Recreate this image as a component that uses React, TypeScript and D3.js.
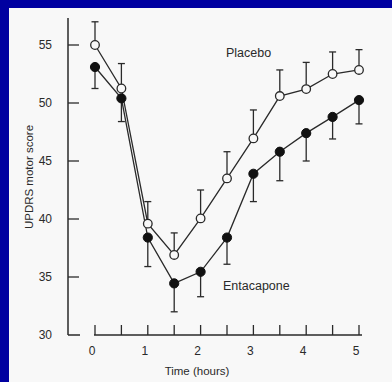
import React from 'react';
import * as d3 from 'd3';

// hours after levodopa dose
const times = [0, 0.5, 1, 1.5, 2, 2.5, 3, 3.5, 4, 4.5, 5];
const placebo = [55.0, 51.25, 39.6, 36.9, 40.05, 43.5, 46.95, 50.6, 51.2, 52.5, 52.85];
const placeboErr = [2.0, 2.15, 1.9, 1.9, 2.45, 2.3, 2.45, 2.25, 2.3, 1.9, 1.75];
const entacapone = [53.1, 50.4, 38.4, 34.45, 35.45, 38.4, 43.9, 45.8, 47.4, 48.8, 50.25];
const entacaponeErr = [1.85, 2.0, 2.5, 2.45, 2.15, 2.3, 2.4, 2.5, 2.4, 1.9, 2.05];
const yTicks = [30, 35, 40, 45, 50, 55];
const xTicks = [0, 1, 2, 3, 4, 5];
const xMinor = [0, 0.5, 1, 1.5, 2, 2.5, 3, 3.5, 4, 4.5, 5];

const W = 392;
const H = 382;
const FONT = '"Liberation Sans", Arial, sans-serif';
const INK = '#2a2a2a';

export default function App() {
  const x = d3.scaleLinear().domain([0, 5]).range([95, 359]);
  const y = d3.scaleLinear().domain([30, 55]).range([335, 45]);

  const line = d3.line<number>()
    .x((_, i) => x(times[i]))
    .y(d => y(d));

  const axisY = 68;
  const baseline = y(30);

  return (
    <svg width={W} height={H} style={{ position: 'absolute', left: 0, top: 0 }}>
      <rect x={0} y={0} width={W} height={H} fill="#0000a0" />
      <rect x={9} y={8} width={W - 9} height={H - 8} fill="#f8f8f8" />

      {/* y axis */}
      <line x1={axisY} x2={axisY} y1={18} y2={baseline} stroke={INK} strokeWidth={1.5} />
      <line x1={axisY} x2={axisY + 12} y1={baseline} y2={baseline} stroke={INK} strokeWidth={1.5} />
      {yTicks.map(t => (
        <g key={t}>
          {t > 30 && <line x1={axisY} x2={axisY + 11} y1={y(t)} y2={y(t)} stroke={INK} strokeWidth={1.3} />}
          <text x={52} y={y(t)} dy="0.35em" textAnchor="end" fontSize={12} fontFamily={FONT} fill={INK}>{t}</text>
        </g>
      ))}
      <text transform={`translate(29,177) rotate(-90)`} textAnchor="middle" dy="0.35em"
        fontSize={11.5} fontFamily={FONT} fill={INK}>UPDRS motor score</text>

      {/* x axis */}
      <line x1={x(0) - 1} x2={x(5) + 3} y1={baseline} y2={baseline} stroke={INK} strokeWidth={1.5} />
      {xMinor.map(t => (
        <line key={t} x1={x(t)} x2={x(t)} y1={baseline} y2={baseline - 10} stroke={INK} strokeWidth={1.3} />
      ))}
      {xTicks.map(t => (
        <text key={t} x={x(t) - 3} y={351} dy="0.35em" textAnchor="middle" fontSize={12} fontFamily={FONT} fill={INK}>{t}</text>
      ))}
      <text x={197} y={371} dy="0.35em" textAnchor="middle" fontSize={11.5} fontFamily={FONT} fill={INK}>Time (hours)</text>

      {/* error bars */}
      {placebo.map((v, i) => {
        const cx = x(times[i]);
        const top = y(v + placeboErr[i]);
        return (
          <g key={'pe' + i} stroke={INK} strokeWidth={1.3}>
            <line x1={cx} x2={cx} y1={y(v)} y2={top} />
            <line x1={cx - 3.5} x2={cx + 3.5} y1={top} y2={top} />
          </g>
        );
      })}
      {entacapone.map((v, i) => {
        const cx = x(times[i]);
        const bot = y(v - entacaponeErr[i]);
        return (
          <g key={'ee' + i} stroke={INK} strokeWidth={1.3}>
            <line x1={cx} x2={cx} y1={y(v)} y2={bot} />
            <line x1={cx - 3.5} x2={cx + 3.5} y1={bot} y2={bot} />
          </g>
        );
      })}

      {/* lines */}
      <path d={line(entacapone) ?? ''} fill="none" stroke={INK} strokeWidth={1.3} />
      <path d={line(placebo) ?? ''} fill="none" stroke={INK} strokeWidth={1.3} />

      {/* markers */}
      {entacapone.map((v, i) => (
        <circle key={'e' + i} cx={x(times[i])} cy={y(v)} r={4.6} fill="#111" stroke="#111" strokeWidth={1} />
      ))}
      {placebo.map((v, i) => (
        <circle key={'p' + i} cx={x(times[i])} cy={y(v)} r={4.3} fill="#f8f8f8" stroke={INK} strokeWidth={1.3} />
      ))}

      <text x={226} y={53} dy="0.35em" fontSize={12.5} fontFamily={FONT} fill={INK}>Placebo</text>
      <text x={223} y={286} dy="0.35em" fontSize={12.5} fontFamily={FONT} fill={INK}>Entacapone</text>
    </svg>
  );
}
